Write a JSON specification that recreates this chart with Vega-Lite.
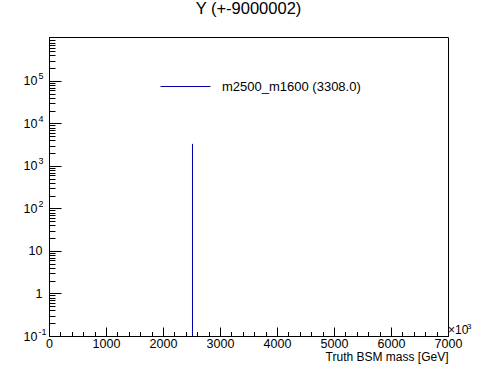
{
  "$schema": "https://vega.github.io/schema/vega-lite/v6.json",
  "width": 399,
  "height": 299,
  "autosize": {"type": "none"},
  "padding": {"left": 49, "top": 37, "right": 50, "bottom": 38},
  "background": "white",
  "config": {
    "view": {"stroke": "black", "strokeWidth": 1},
    "font": "Liberation Sans",
    "axis": {"domainColor": "black", "tickColor": "black", "labelColor": "black", "titleColor": "black", "grid": false, "labelFont": "Liberation Sans", "titleFont": "Liberation Sans"}
  },
  "title": {"text": "Y (+-9000002)", "fontSize": 16.5, "fontWeight": "normal", "font": "Liberation Sans", "color": "black", "anchor": "middle", "offset": 4, "baseline": "alphabetic"},
  "data": {"values": [{"mass": 2517.5, "entries": 3308, "sample": "m2500_m1600 (3308.0)"}]},
  "layer": [
    {
      "mark": {"type": "rule", "strokeWidth": 1},
      "encoding": {
        "x": {
          "field": "mass", "type": "quantitative",
          "scale": {"domain": [0, 7000], "nice": false, "zero": false},
          "axis": {
            "values": [0,200,400,600,800,1000,1200,1400,1600,1800,2000,2200,2400,2600,2800,3000,3200,3400,3600,3800,4000,4200,4400,4600,4800,5000,5200,5400,5600,5800,6000,6200,6400,6600,6800,7000],
            "format": "d",
            "labelExpr": "datum.value % 1000 == 0 ? datum.label : ''",
            "tickSize": {"condition": {"test": "datum.value % 1000 == 0", "value": -9}, "value": -4.5},
            "labelPadding": {"condition": {"test": "datum.value % 1000 == 0", "value": 10}, "value": 5.5},
            "labelFontSize": 12.5,
            "labelFlush": false,
            "labelOverlap": false,
            "title": "Truth BSM mass [GeV]",
            "titleFontSize": 12,
            "titleFontWeight": "normal",
            "titleAlign": "right",
            "titleAnchor": "end",
            "titleX": 399,
            "titleY": 24,
            "titleBaseline": "alphabetic"
          }
        },
        "y": {
          "field": "entries", "type": "quantitative",
          "scale": {"type": "log", "domain": [0.1, 1080000], "nice": false},
          "axis": {
            "values": [0.1,0.2,0.3,0.4,0.5,0.6,0.7,0.8,0.9,1,2,3,4,5,6,7,8,9,10,20,30,40,50,60,70,80,90,100,200,300,400,500,600,700,800,900,1000,2000,3000,4000,5000,6000,7000,8000,9000,10000,20000,30000,40000,50000,60000,70000,80000,90000,100000,200000,300000,400000,500000,600000,700000,800000,900000],
            "labelExpr": "datum.value == 1 ? '1' : (abs(log(datum.value)/LN10 - round(log(datum.value)/LN10)) < 0.001 ? '10' : '')",
            "tickSize": {"condition": {"test": "abs(log(datum.value)/LN10 - round(log(datum.value)/LN10)) < 0.001", "value": -12}, "value": -6},
            "labelPadding": {"condition": {"test": "datum.value == 1 || datum.value == 10", "value": 19}, "value": 24},
            "labelFontSize": 12.5,
            "labelOverlap": false,
            "labelFlush": false,
            "title": null
          }
        },
        "y2": {"datum": 0.1},
        "color": {
          "field": "sample", "type": "nominal",
          "scale": {"range": ["#0000aa"]},
          "legend": {"orient": "none", "legendX": 111, "legendY": 24, "title": null, "symbolType": "stroke", "symbolSize": 2500, "symbolStrokeWidth": 1, "symbolStrokeColor": "#0000aa", "labelFontSize": 13, "labelOffset": 11, "padding": 0, "labelFont": "Liberation Sans", "labelColor": "black"}
        }
      }
    },
    {
      "mark": {"type": "rule", "opacity": 0},
      "encoding": {
        "y": {
          "field": "entries", "type": "quantitative",
          "scale": {"type": "log", "domain": [0.1, 1080000], "nice": false},
          "axis": {
            "orient": "left",
            "values": [0.1, 100, 1000, 10000, 100000],
            "labelExpr": "datum.value < 1 ? '-1' : format(round(log(datum.value)/LN10), 'd')",
            "ticks": false,
            "domain": false,
            "labelAlign": "left",
            "labelPadding": 11,
            "labelOffset": -5,
            "labelFontSize": 9,
            "labelOverlap": false,
            "labelFlush": false,
            "title": null
          }
        }
      }
    },
    {
      "mark": {"type": "text", "text": "×10", "align": "left", "baseline": "alphabetic", "fontSize": 12, "font": "Liberation Sans", "color": "black", "dy": -2},
      "encoding": {
        "x": {"datum": 7000, "type": "quantitative", "scale": {"domain": [0, 7000], "nice": false, "zero": false}, "axis": null},
        "y": {"datum": 0.1, "type": "quantitative", "scale": {"type": "log", "domain": [0.1, 1080000], "nice": false}, "axis": null}
      }
    },
    {
      "mark": {"type": "text", "text": "3", "align": "left", "baseline": "alphabetic", "fontSize": 8, "font": "Liberation Sans", "color": "black", "dx": 19, "dy": -7},
      "encoding": {
        "x": {"datum": 7000, "type": "quantitative", "scale": {"domain": [0, 7000], "nice": false, "zero": false}, "axis": null},
        "y": {"datum": 0.1, "type": "quantitative", "scale": {"type": "log", "domain": [0.1, 1080000], "nice": false}, "axis": null}
      }
    }
  ],
  "resolve": {"axis": {"x": "independent", "y": "independent"}}
}
